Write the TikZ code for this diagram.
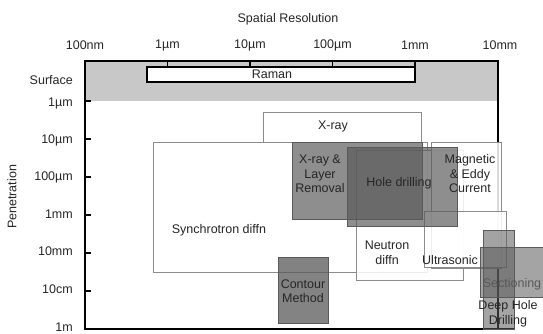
\documentclass[tikz,border=0pt]{standalone}
\usepackage{fontspec}
\setmainfont{Liberation Sans}
\usepackage{tikz}
\definecolor{bandgray}{HTML}{C8C8C8}
\definecolor{edgegray}{HTML}{8C8C8C}
\definecolor{darkedge}{HTML}{5A5A5A}
\definecolor{fillgray}{HTML}{595959}
\tikzset{
  frame/.style={line width=1.6pt,black},
  wbox/.style={draw=edgegray,line width=0.8pt,fill=white,fill opacity=0.85},
  gbox/.style={draw=darkedge,line width=0.8pt,fill=fillgray,fill opacity=0.68},
  lab/.style={font=\fontsize{12.5}{14.5}\selectfont,text=black!85,align=center,inner sep=0pt}
}
\begin{document}
\begin{tikzpicture}[x=1pt,y=-1pt]
\useasboundingbox (0,0) rectangle (543,334);
% surface band and plot frame
\fill[bandgray] (85,61) rectangle (497.7,101);
\draw[frame] (515,329) -| (85,61) -| (497.7,329);
\foreach \x in {167.5,250,332.5,415} \draw[frame,line width=1.2pt] (\x,61)--(\x,68);
\foreach \y in {101,139,177,215,253,291} \draw[frame,line width=1.2pt] (85,\y)--(91,\y);
% axis texts
\node[lab] (title) at (288,19) {Spatial Resolution};
\foreach \x/\t [count=\i] in {85/100nm,167.5/1µm,250/10µm,332.5/100µm,415/1mm,500/10mm}
  \node[lab] (xl\i) at (\x,45) {\t};
\foreach \y/\t [count=\i] in {80/Surface,103/1µm,140/10µm,177/100µm,214/1mm,251/10mm,289/10cm,327/1m}
  \node[lab,anchor=east] (yl\i) at (73,\y) {\t};
\node[lab,rotate=90] (pen) at (12,197) {Penetration};
% techniques
\draw[frame,fill=white] (147,67) rectangle (415,82);
\draw[wbox] (153,142) rectangle (427,272);
\draw[wbox] (263,112) rectangle (421,142);
\draw[wbox] (356,150) rectangle (463,280);
\draw[wbox] (431,142) rectangle (501,268);
\draw[wbox] (424,211) rectangle (506,267);
\draw[gbox] (292,142) rectangle (422,219);
\draw[gbox] (347,147) rectangle (457,226);
\draw[gbox,fill opacity=0.75] (278,257) rectangle (328,323);
\draw[gbox,fill opacity=0.55] (480,247) rectangle (543,297);
\node[lab,text=black!65] (sect) at (512,284) {Sectioning};
\draw[gbox,fill opacity=0.55] (483,230) rectangle (514,329);
\node[lab] (raman) at (272,74) {Raman};
\node[lab] (xray) at (333,126) {X-ray};
\node[lab] (sync) at (219,230) {Synchrotron diffn};
\node[lab] (xlr) at (320,174) {X-ray \&\\Layer\\Removal};
\node[lab] (hole) at (399,183) {Hole drilling};
\node[lab] (neut) at (387,253) {Neutron\\diffn};
\node[lab] (magn) at (470,174) {Magnetic\\\& Eddy\\Current};
\node[lab] (ultra) at (450,260) {Ultrasonic};
\node[lab] (cont) at (303,291) {Contour\\Method};
\node[lab] (deep) at (508,314) {Deep Hole\\Drilling};
\end{tikzpicture}
\end{document}
